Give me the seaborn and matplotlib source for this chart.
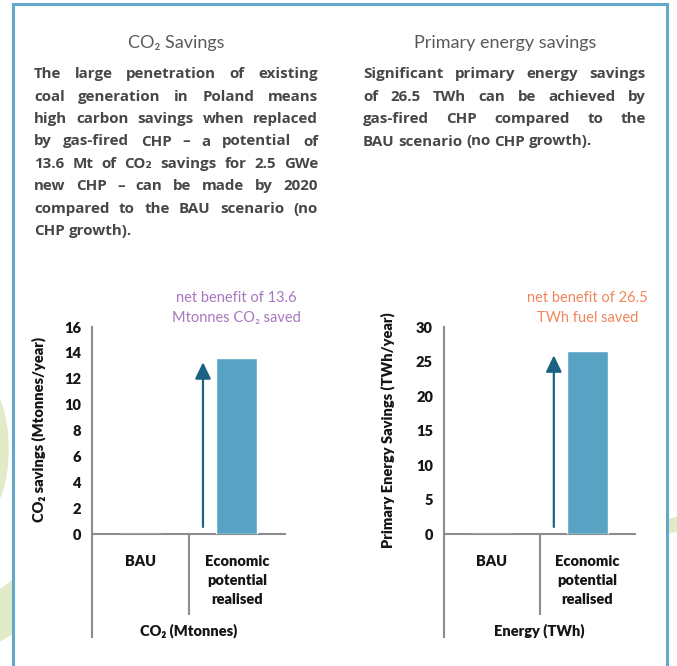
import matplotlib
matplotlib.use("Agg")
import matplotlib.pyplot as plt
from matplotlib.patches import Rectangle, Ellipse, Polygon
from matplotlib.lines import Line2D
import seaborn as sns

# ---- data -------------------------------------------------------------
categories = ["BAU", "Economic\npotential\nrealised"]
co2_savings = [0.0, 13.6]          # Mtonnes CO2 / year
energy_savings = [0.0, 26.5]       # TWh / year
co2_ticks = [0, 2, 4, 6, 8, 10, 12, 14, 16]
energy_ticks = [0, 5, 10, 15, 20, 25, 30]

co2_title = "CO₂ Savings"
energy_title = "Primary energy savings"
co2_text = [
    "The large penetration of existing",
    "coal generation in Poland means",
    "high carbon savings when replaced",
    "by gas-fired CHP – a potential of",
    "13.6 Mt of CO₂ savings for 2.5 GWe",
    "new CHP – can be made by 2020",
    "compared to the BAU scenario (no",
    "CHP growth).",
]
energy_text = [
    "Significant primary energy savings",
    "of 26.5 TWh can be achieved by",
    "gas-fired CHP compared to the",
    "BAU scenario (no CHP growth).",
]
co2_note = ["net benefit of 13.6", "Mtonnes CO₂ saved"]
energy_note = ["net benefit of 26.5", "TWh fuel saved"]

# ---- style ------------------------------------------------------------
sns.set_style("white")
plt.rcParams["font.family"] = ["Lato", "DejaVu Sans"]
PARA_FONT = ["Open Sans", "DejaVu Sans"]

W, H = 677, 666
fig = plt.figure(figsize=(W / 100, H / 100), dpi=100)
fig.patch.set_facecolor("white")


def fx(x):
    return x / W


def fy(y):
    return 1 - y / H


BAR = "#58a3c4"
ARROW = "#1b6282"
AXIS = "#8b8b90"
INK = "#151515"
PARA = "#474747"
GREEN = "#e0ecc8"

# decorative shapes outside the frame
fig.patches.append(Ellipse((fx(-12), fy(449)), 40 / W, 120 / H,
                           transform=fig.transFigure, color=GREEN, zorder=0))
fig.patches.append(Polygon([(fx(0), fy(590)), (fx(13), fy(580)),
                            (fx(13), fy(633)), (fx(0), fy(641))],
                           transform=fig.transFigure, color=GREEN, zorder=0))
fig.patches.append(Polygon([(fx(668), fy(520)), (fx(677), fy(517)),
                            (fx(677), fy(531)), (fx(668), fy(533))],
                           transform=fig.transFigure, color=GREEN, zorder=0))
# panel frame
fig.patches.append(Rectangle((fx(13), fy(720)), (667 - 13) / W, (720 - 4) / H,
                             transform=fig.transFigure, facecolor="white",
                             edgecolor="#62a8ca", lw=2.2, zorder=0.5))

# ---- headings and paragraphs -------------------------------------------
fig.text(fx(176), fy(48), co2_title, ha="center", va="baseline",
         fontsize=13, fontweight="normal", color="#5a5a5a", zorder=3)
fig.text(fx(505), fy(48), energy_title, ha="center", va="baseline",
         fontsize=13, fontweight="normal", color="#5a5a5a", zorder=3)

renderer = fig.canvas.get_renderer()
para_kw = dict(fontsize=10.9, fontweight="bold", color=PARA, va="baseline",
               family=PARA_FONT, zorder=3)


def justified(lines, x0, x1, y0, dy):
    probe_a = fig.text(0, 0, "a a", **para_kw)
    probe_b = fig.text(0, 0, "aa", **para_kw)
    space = (probe_a.get_window_extent(renderer).width
             - probe_b.get_window_extent(renderer).width)
    probe_a.remove()
    probe_b.remove()
    for i, line in enumerate(lines):
        words = line.split()
        y = fy(y0 + i * dy)
        texts = [fig.text(0, y, w, **para_kw) for w in words]
        widths = [t.get_window_extent(renderer).width for t in texts]
        if i == len(lines) - 1 or len(words) == 1:
            gap = space
        else:
            gap = (x1 - x0 - sum(widths)) / (len(words) - 1)
        x = x0
        for t, w in zip(texts, widths):
            t.set_x(fx(x))
            x += w + gap


justified(co2_text, 34, 318, 78.3, 22.4)
justified(energy_text, 363, 646, 78.3, 22.4)

# ---- charts -----------------------------------------------------------
y_top, y_zero = 327, 534
LABEL_W = "heavy"


def panel(left, right, values, ticks, ylabel, xlabel, note, note_color,
          ylabel_x):
    ax = fig.add_axes([fx(left), fy(y_zero), (right - left) / W,
                       (y_zero - y_top) / H])
    ax.set_zorder(2)
    ax.set_facecolor("none")
    sns.barplot(x=categories, y=values, ax=ax, color=BAR, saturation=1,
                width=0.425, zorder=3)
    ymax = ticks[-1]
    ax.set_ylim(0, ymax)
    ax.set_xlim(-0.5, 1.5)
    ax.set_yticks(ticks)
    ax.set_yticklabels([str(t) for t in ticks])
    for s in ("top", "right"):
        ax.spines[s].set_visible(False)
    for s in ("left", "bottom"):
        ax.spines[s].set_color(AXIS)
        ax.spines[s].set_linewidth(1.5)
    ax.tick_params(axis="y", direction="out", length=3, width=1.5,
                   color=AXIS, pad=5, labelsize=10.5, labelcolor=INK)
    ax.tick_params(axis="x", length=0, pad=15, labelsize=10.5,
                   labelcolor=INK)
    for lab in ax.get_yticklabels() + ax.get_xticklabels():
        lab.set_fontweight(LABEL_W)
    for lab in ax.get_xticklabels():
        lab.set_linespacing(1.55)
        lab.set_va("top")
    ax.set_xlabel("")
    ax.set_ylabel("")

    # extended axis and category divider below the plot
    ax.add_line(Line2D([0, 0], [0, -0.502], transform=ax.transAxes,
                       color=AXIS, lw=1.5, clip_on=False,
                       solid_capstyle="butt"))
    ax.add_line(Line2D([0.5, 0.5], [0, -0.39], transform=ax.transAxes,
                       color=AXIS, lw=1.5, clip_on=False,
                       solid_capstyle="butt"))

    # arrow rising towards the realised potential
    ax.annotate("", xy=(0.65, values[1] - 0.02 * ymax),
                xytext=(0.65, 0.034 * ymax),
                arrowprops=dict(arrowstyle="-|>,head_length=1.0,head_width=0.48",
                                color=ARROW, lw=1.6, shrinkA=0, shrinkB=0),
                zorder=4)

    cx = left + (right - left) * 0.75
    fig.text(fx(cx), fy(302), note[0], ha="center", va="baseline",
             fontsize=10.5, color=note_color, zorder=3)
    fig.text(fx(cx), fy(322), note[1], ha="center", va="baseline",
             fontsize=10.5, color=note_color, zorder=3)

    fig.text(fx(ylabel_x), fy(430), ylabel, rotation=90, ha="center",
             va="center", fontsize=10.5, fontweight=LABEL_W, color=INK,
             zorder=3)
    fig.text(fx((left + right) / 2), fy(631), xlabel, ha="center",
             va="center", fontsize=10.5, fontweight=LABEL_W, color=INK,
             zorder=3)
    return ax


panel(92, 285, co2_savings, co2_ticks, "CO₂ savings (Mtonnes/year)",
      "CO₂ (Mtonnes)", co2_note, "#a877bf", 39)
panel(444, 635, energy_savings, energy_ticks,
      "Primary Energy Savings (TWh/year)", "Energy (TWh)", energy_note,
      "#f2855a", 388)

fig.savefig("out.png", dpi=100)
